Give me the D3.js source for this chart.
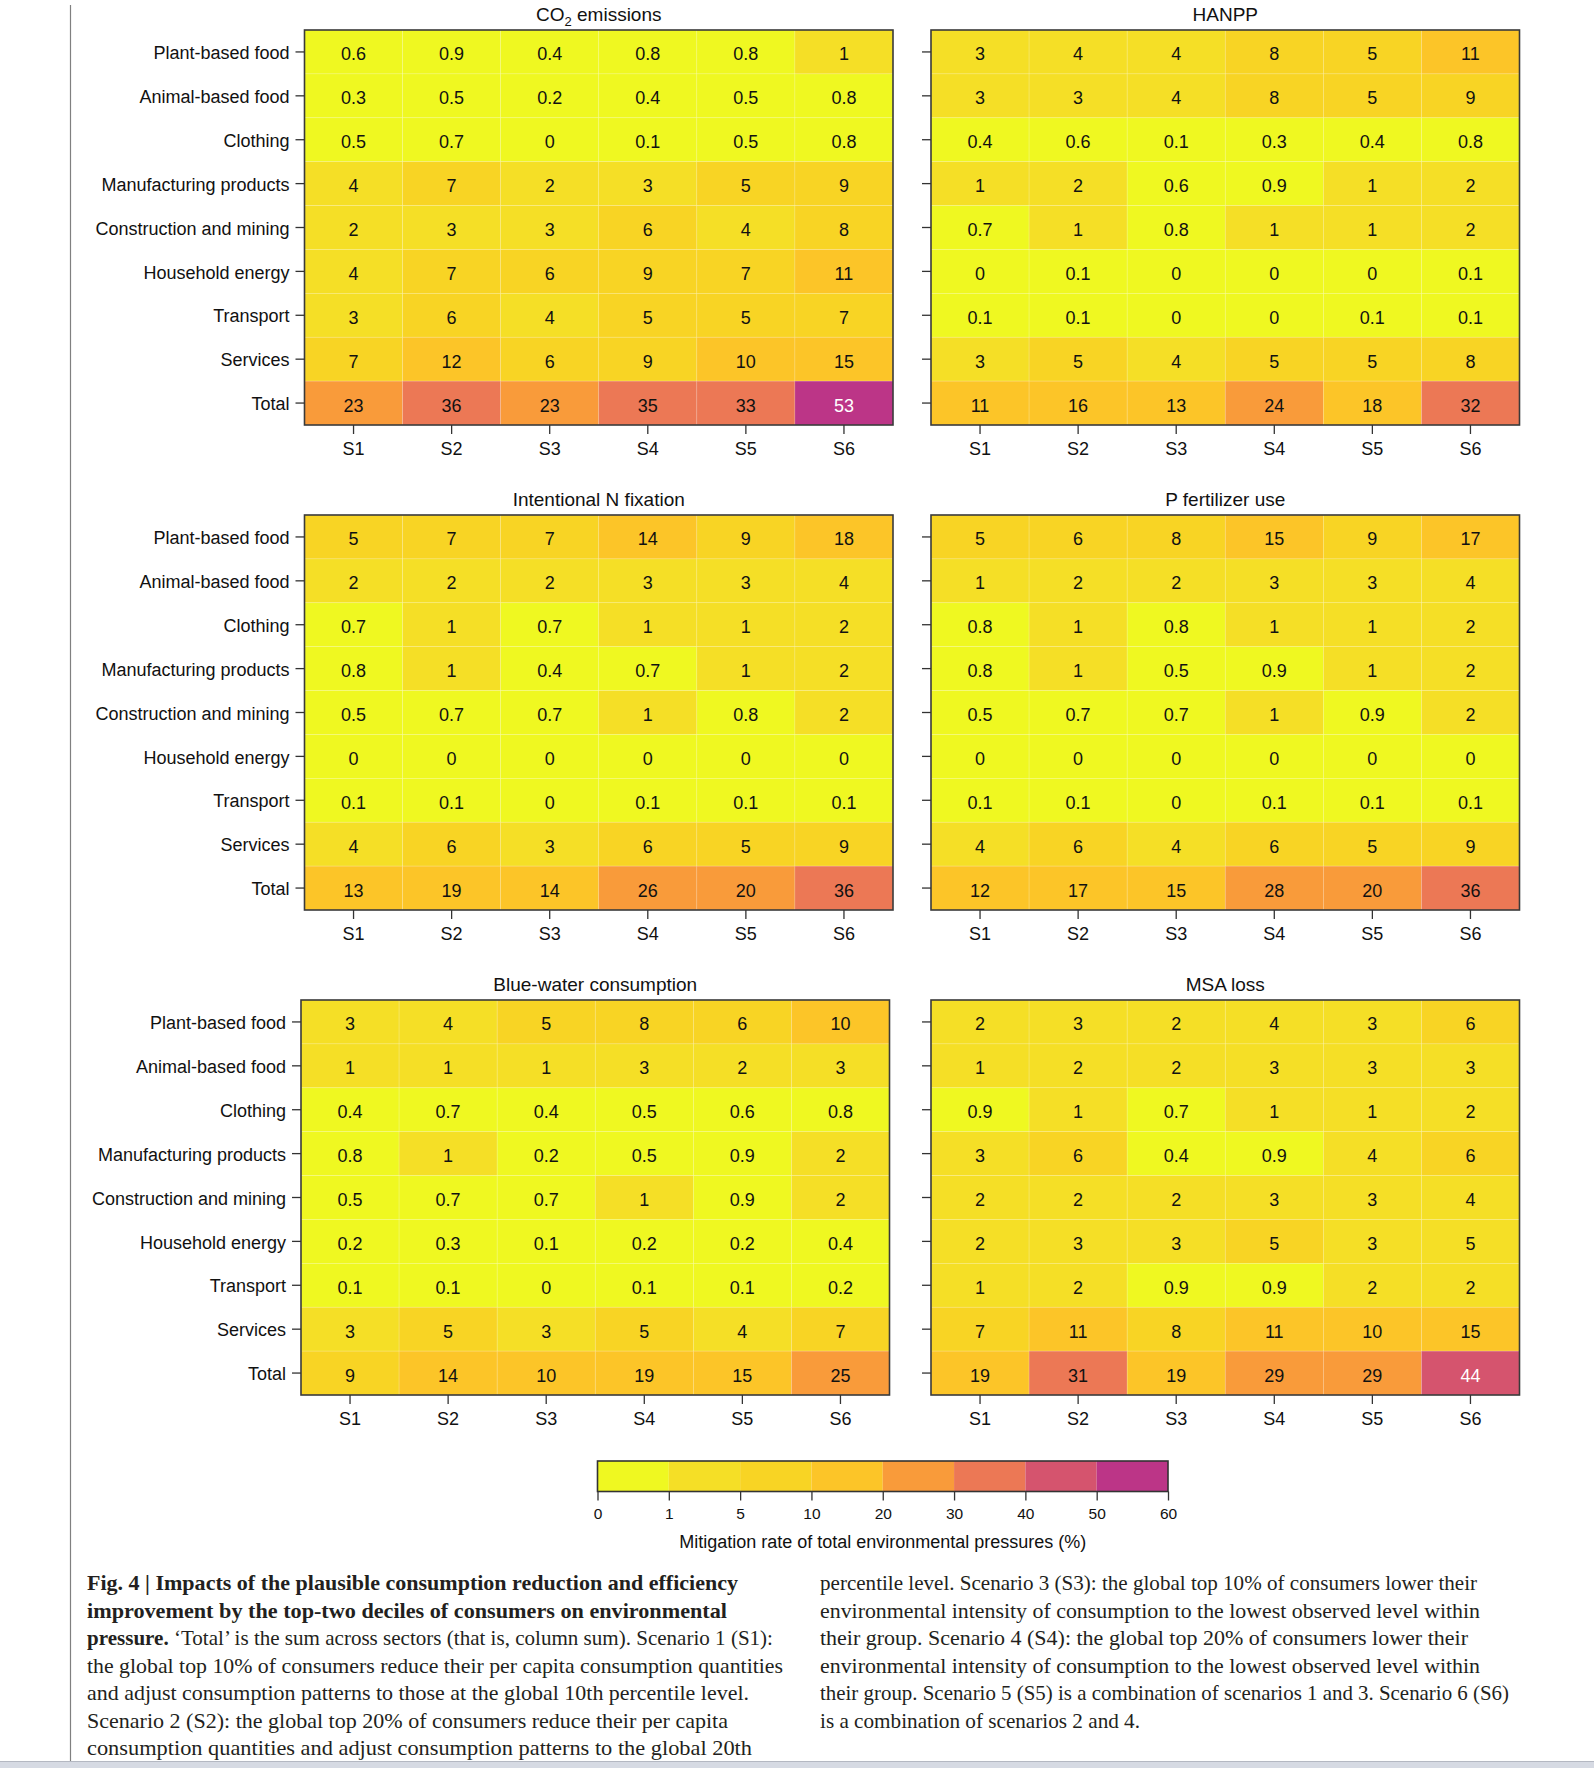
<!DOCTYPE html>
<html>
<head>
<meta charset="utf-8">
<script src="https://cdn.jsdelivr.net/npm/d3@7"></script>
<style>
  body { margin: 0; background: #fff; }
  svg text { font-family: "Liberation Sans", Arial, Helvetica, sans-serif; }
</style>
</head>
<body>
<svg id="fig" width="1594" height="1768"></svg>
<script>

// ---- data ----
let scenarios = ["S1", "S2", "S3", "S4", "S5", "S6"]

let sectors = ["Plant-based food", "Animal-based food", "Clothing", "Manufacturing products",
  "Construction and mining", "Household energy", "Transport", "Services", "Total"]

let co2 = [
  [0.6, 0.9, 0.4, 0.8, 0.8, 1],
  [0.3, 0.5, 0.2, 0.4, 0.5, 0.8],
  [0.5, 0.7, 0, 0.1, 0.5, 0.8],
  [4, 7, 2, 3, 5, 9],
  [2, 3, 3, 6, 4, 8],
  [4, 7, 6, 9, 7, 11],
  [3, 6, 4, 5, 5, 7],
  [7, 12, 6, 9, 10, 15],
  [23, 36, 23, 35, 33, 53]
]

let hanpp = [
  [3, 4, 4, 8, 5, 11],
  [3, 3, 4, 8, 5, 9],
  [0.4, 0.6, 0.1, 0.3, 0.4, 0.8],
  [1, 2, 0.6, 0.9, 1, 2],
  [0.7, 1, 0.8, 1, 1, 2],
  [0, 0.1, 0, 0, 0, 0.1],
  [0.1, 0.1, 0, 0, 0.1, 0.1],
  [3, 5, 4, 5, 5, 8],
  [11, 16, 13, 24, 18, 32]
]

let nfix = [
  [5, 7, 7, 14, 9, 18],
  [2, 2, 2, 3, 3, 4],
  [0.7, 1, 0.7, 1, 1, 2],
  [0.8, 1, 0.4, 0.7, 1, 2],
  [0.5, 0.7, 0.7, 1, 0.8, 2],
  [0, 0, 0, 0, 0, 0],
  [0.1, 0.1, 0, 0.1, 0.1, 0.1],
  [4, 6, 3, 6, 5, 9],
  [13, 19, 14, 26, 20, 36]
]

let pfert = [
  [5, 6, 8, 15, 9, 17],
  [1, 2, 2, 3, 3, 4],
  [0.8, 1, 0.8, 1, 1, 2],
  [0.8, 1, 0.5, 0.9, 1, 2],
  [0.5, 0.7, 0.7, 1, 0.9, 2],
  [0, 0, 0, 0, 0, 0],
  [0.1, 0.1, 0, 0.1, 0.1, 0.1],
  [4, 6, 4, 6, 5, 9],
  [12, 17, 15, 28, 20, 36]
]

let bluewater = [
  [3, 4, 5, 8, 6, 10],
  [1, 1, 1, 3, 2, 3],
  [0.4, 0.7, 0.4, 0.5, 0.6, 0.8],
  [0.8, 1, 0.2, 0.5, 0.9, 2],
  [0.5, 0.7, 0.7, 1, 0.9, 2],
  [0.2, 0.3, 0.1, 0.2, 0.2, 0.4],
  [0.1, 0.1, 0, 0.1, 0.1, 0.2],
  [3, 5, 3, 5, 4, 7],
  [9, 14, 10, 19, 15, 25]
]

let msa = [
  [2, 3, 2, 4, 3, 6],
  [1, 2, 2, 3, 3, 3],
  [0.9, 1, 0.7, 1, 1, 2],
  [3, 6, 0.4, 0.9, 4, 6],
  [2, 2, 2, 3, 3, 4],
  [2, 3, 3, 5, 3, 4.7],
  [1, 2, 0.9, 0.9, 2, 2],
  [7, 11, 8, 11, 10, 15],
  [19, 31, 19, 29, 29, 44]
]

let bin_breaks = [1, 5, 10, 20, 30, 40, 50]
let bin_colors = ["#EFF821", "#F5DF26", "#F8D424", "#FCC528", "#F99B3A", "#EC7855", "#D5546E", "#BC3587"]
let legend_ticks = [0, 1, 5, 10, 20, 30, 40, 50, 60]
let legend_title = "Mitigation rate of total environmental pressures (%)"

// panel layout: [title, data, x, y, show sector labels]
let panels = [
  {title: ["CO", "2", " emissions"], data: co2, x: 304.5, y: 30, labels: true},
  {title: ["HANPP"], data: hanpp, x: 931, y: 30, labels: false},
  {title: ["Intentional N fixation"], data: nfix, x: 304.5, y: 515, labels: true},
  {title: ["P fertilizer use"], data: pfert, x: 931, y: 515, labels: false},
  {title: ["Blue-water consumption"], data: bluewater, x: 301, y: 1000, labels: true},
  {title: ["MSA loss"], data: msa, x: 931, y: 1000, labels: false}
]

let caption_left = [
  [[1, "Fig. 4 | Impacts of the plausible consumption reduction and efficiency"]],
  [[1, "improvement by the top-two deciles of consumers on environmental"]],
  [[1, "pressure."], [0, " \u2018Total\u2019 is the sum across sectors (that is, column sum). Scenario 1 (S1):"]],
  [[0, "the global top 10% of consumers reduce their per capita consumption quantities"]],
  [[0, "and adjust consumption patterns to those at the global 10th percentile level."]],
  [[0, "Scenario 2 (S2): the global top 20% of consumers reduce their per capita"]],
  [[0, "consumption quantities and adjust consumption patterns to the global 20th"]]
]
let caption_left_w = [651, 640, 686, 696, 662, 641, 665]

let caption_right = [
  "percentile level. Scenario 3 (S3): the global top 10% of consumers lower their",
  "environmental intensity of consumption to the lowest observed level within",
  "their group. Scenario 4 (S4): the global top 20% of consumers lower their",
  "environmental intensity of consumption to the lowest observed level within",
  "their group. Scenario 5 (S5) is a combination of scenarios 1 and 3. Scenario 6 (S6)",
  "is a combination of scenarios 2 and 4."
]
let caption_right_w = [657, 660, 648, 660, 689, 320]

// ---- drawing ----
let svg = d3.select('#fig')

let W = 588.5, H = 395

let color = d3.scaleThreshold().domain(bin_breaks).range(bin_colors)

let fmt = v => v < 0.95 ? String(+v.toFixed(1)) : String(Math.round(v))

// page rule on the left and bottom strip
svg.append('line').attr('x1', 70.5).attr('x2', 70.5).attr('y1', 5).attr('y2', 1761)
  .attr('stroke', '#808080').attr('stroke-width', 1.2)
svg.append('rect').attr('x', 0).attr('y', 1761).attr('width', 1594).attr('height', 7).attr('fill', '#D6DAE3')
svg.append('line').attr('x1', 0).attr('x2', 1594).attr('y1', 1761.5).attr('y2', 1761.5)
  .attr('stroke', '#B4B8C2').attr('stroke-width', 1)

panels.forEach((p) => {
  let g = svg.append('g').attr('transform', `translate(${p.x},${p.y})`)

  let x = d3.scaleBand().domain(scenarios).range([0, W])
  let y = d3.scaleBand().domain(sectors).range([0, H])

  let cells = p.data.flatMap((row, i) => row.map((v, j) => ({sector: sectors[i], scen: scenarios[j], v: v})))

  g.selectAll('rect.cell')
    .data(cells)
    .join('rect')
    .attr('class', 'cell')
    .attr('x', d => x(d.scen))
    .attr('y', d => y(d.sector))
    .attr('width', x.bandwidth())
    .attr('height', y.bandwidth())
    .attr('fill', d => color(d.v))
    .attr('stroke', 'rgba(255,255,255,0.22)')
    .attr('stroke-width', 0.7)

  g.selectAll('text.val')
    .data(cells)
    .join('text')
    .attr('class', 'val')
    .attr('x', d => x(d.scen) + x.bandwidth() / 2)
    .attr('y', d => y(d.sector) + y.bandwidth() / 2 + 8.5)
    .attr('text-anchor', 'middle')
    .style('font-size', '18px')
    .style('fill', d => d.v >= 40 ? '#ffffff' : '#111111')
    .text(d => fmt(d.v))

  g.append('rect').attr('width', W).attr('height', H)
    .attr('fill', 'none').attr('stroke', '#3a3a3a').attr('stroke-width', 1.6)

  let ax_left = d3.axisLeft(y).tickSize(9).tickPadding(6)
  if (!p.labels) ax_left.tickFormat('')
  let gl = g.append('g').call(ax_left)
  gl.selectAll('text').attr('dy', '0.4em')

  let gb = g.append('g').attr('transform', `translate(0,${H})`)
    .call(d3.axisBottom(x).tickSize(9).tickPadding(8))

  ;[gl, gb].forEach(a => {
    a.select('.domain').remove()
    a.selectAll('line').attr('stroke', '#333').attr('stroke-width', 1.3)
    a.selectAll('text').style('font-size', '18px').style('fill', '#111')
      .style('font-family', '"Liberation Sans", Arial, sans-serif')
  })

  let t = g.append('text')
    .attr('x', W / 2).attr('y', -9)
    .attr('text-anchor', 'middle')
    .style('font-size', '19px').style('fill', '#111')
  if (p.title.length == 3) {
    t.append('tspan').text(p.title[0])
    t.append('tspan').attr('dy', 5).style('font-size', '13px').text(p.title[1])
    t.append('tspan').attr('dy', -5).text(p.title[2])
  } else {
    t.text(p.title[0])
  }
})

// ---- colour key ----
let lg = svg.append('g').attr('transform', 'translate(597.5,1461)')
let LW = 570.5, LH = 30.5

let lx = d3.scalePoint().domain(legend_ticks).range([0, LW])

lg.selectAll('rect.seg')
  .data(bin_colors)
  .join('rect')
  .attr('class', 'seg')
  .attr('x', (d, i) => lx(legend_ticks[i]))
  .attr('y', 0)
  .attr('width', (d, i) => lx(legend_ticks[i + 1]) - lx(legend_ticks[i]))
  .attr('height', LH)
  .attr('fill', d => d)

lg.append('rect').attr('width', LW).attr('height', LH)
  .attr('fill', 'none').attr('stroke', '#333').attr('stroke-width', 1.6)

let lax = lg.append('g').attr('transform', `translate(0,${LH})`)
  .call(d3.axisBottom(lx).tickSize(9).tickPadding(7))
lax.select('.domain').remove()
lax.selectAll('line').attr('stroke', '#333').attr('stroke-width', 1.3)
lax.selectAll('text').style('font-size', '15.5px').style('fill', '#111')
  .style('font-family', '"Liberation Sans", Arial, sans-serif')

lg.append('text')
  .attr('x', LW / 2).attr('y', 87)
  .attr('text-anchor', 'middle')
  .style('font-size', '18px').style('fill', '#111')
  .text(legend_title)

// ---- caption ----
let cap = svg.append('g').style('fill', '#231f20')

caption_left.forEach((line, i) => {
  let t = cap.append('text')
    .attr('x', 87).attr('y', 1590 + i * 27.5)
    .attr('textLength', caption_left_w[i])
    .attr('lengthAdjust', 'spacingAndGlyphs')
    .style('font-family', '"Liberation Serif", "Times New Roman", serif')
    .style('font-size', '21px')
  line.forEach(seg => {
    t.append('tspan').style('font-weight', seg[0] ? 'bold' : 'normal').text(seg[1])
  })
})

caption_right.forEach((line, i) => {
  cap.append('text')
    .attr('x', 820).attr('y', 1590 + i * 27.5)
    .attr('textLength', caption_right_w[i])
    .attr('lengthAdjust', 'spacingAndGlyphs')
    .style('font-family', '"Liberation Serif", "Times New Roman", serif')
    .style('font-size', '21px')
    .text(line)
})

</script>
</body>
</html>
